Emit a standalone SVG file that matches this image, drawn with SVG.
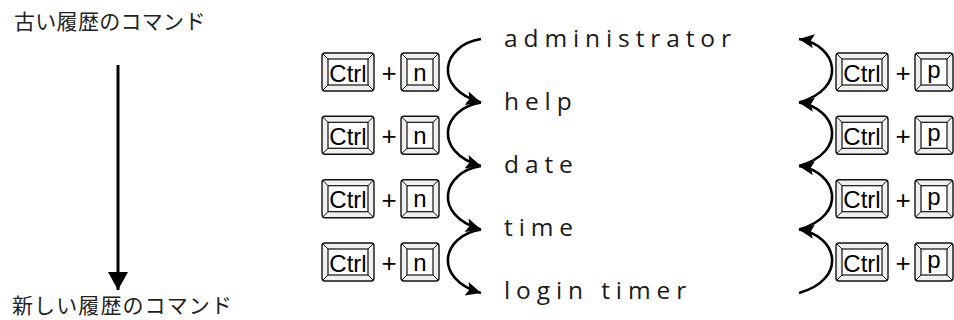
<svg xmlns="http://www.w3.org/2000/svg" xmlns:xlink="http://www.w3.org/1999/xlink" width="954" height="320" viewBox="0 0 954 320">
<style>
.jp{font-family:"Noto Sans CJK JP","Noto Sans",sans-serif;font-size:21px;fill:#222}
.cmd{font-family:"Open Sans","Noto Sans",sans-serif;font-weight:400;font-size:24.5px;letter-spacing:5.9px;fill:#1a1a1a}
.key{font-family:"Liberation Sans",Arial,sans-serif;fill:#000;text-anchor:middle}
.kb{fill:#f0f0f0;stroke:#111;stroke-width:1.4}
.ki{fill:#fff;stroke:#111;stroke-width:1.2}
.kl{stroke:#111;stroke-width:1}
.curve{fill:none;stroke:#000;stroke-width:2.6}
</style>
<defs>
<marker id="ah" markerUnits="userSpaceOnUse" markerWidth="18" markerHeight="16" refX="15" refY="7" orient="auto" viewBox="0 0 18 16">
<path d="M0,0 L15,7 L0,14 L3,7 z" fill="#000"/>
</marker>
<marker id="down" markerUnits="userSpaceOnUse" markerWidth="20" markerHeight="20" refX="18" refY="10" orient="auto" viewBox="0 0 20 20">
<path d="M0,0 L18,10 L0,20 z" fill="#000"/>
</marker>
<g id="ctrl">
<rect class="kb" x="0" y="0" width="52" height="38" rx="3"/>
<rect class="ki" x="6" y="6" width="40" height="26"/>
<path class="kl" d="M1,1 L6,6 M51,1 L46,6 M1,37 L6,32 M51,37 L46,32"/>
<text class="key" x="26" y="28.5" font-size="24">Ctrl</text>
</g>
<g id="kn">
<rect class="kb" x="0" y="0" width="38" height="38" rx="3"/>
<rect class="ki" x="6" y="6" width="26" height="26"/>
<path class="kl" d="M1,1 L6,6 M37,1 L32,6 M1,37 L6,32 M37,37 L32,32"/>
<text class="key" x="19" y="27.5" font-size="24">n</text>
</g>
<g id="kp">
<rect class="kb" x="0" y="0" width="38" height="38" rx="3"/>
<rect class="ki" x="6" y="6" width="26" height="26"/>
<path class="kl" d="M1,1 L6,6 M37,1 L32,6 M1,37 L6,32 M37,37 L32,32"/>
<text class="key" x="19" y="25" font-size="24">p</text>
</g>
<g id="plus"><text class="key" x="0" y="0" font-size="26">+</text></g>
</defs>

<g id="label-old"><text class="jp" x="14" y="29" letter-spacing="0.3">古い履歴のコマンド</text></g>
<g id="label-new"><text class="jp" x="12" y="313" letter-spacing="1.1">新しい履歴のコマンド</text></g>

<g id="cmd-administrator"><text class="cmd" x="504" y="47">administrator</text></g>
<g id="cmd-help"><text class="cmd" x="504" y="110">help</text></g>
<g id="cmd-date"><text class="cmd" x="504" y="173">date</text></g>
<g id="cmd-time"><text class="cmd" x="504" y="236">time</text></g>
<g id="cmd-login-timer"><text class="cmd" x="504" y="299">login timer</text></g>

<g id="keys-next-1"><use xlink:href="#ctrl" x="322" y="53"/><use xlink:href="#plus" x="389" y="82"/><use xlink:href="#kn" x="401" y="53"/></g>
<g id="keys-next-2"><use xlink:href="#ctrl" x="322" y="116.3"/><use xlink:href="#plus" x="389" y="145.3"/><use xlink:href="#kn" x="401" y="116.3"/></g>
<g id="keys-next-3"><use xlink:href="#ctrl" x="322" y="179.7"/><use xlink:href="#plus" x="389" y="208.7"/><use xlink:href="#kn" x="401" y="179.7"/></g>
<g id="keys-next-4"><use xlink:href="#ctrl" x="322" y="243"/><use xlink:href="#plus" x="389" y="272"/><use xlink:href="#kn" x="401" y="243"/></g>

<g id="keys-prev-1"><use xlink:href="#ctrl" x="836" y="53"/><use xlink:href="#plus" x="903" y="82"/><use xlink:href="#kp" x="915" y="53"/></g>
<g id="keys-prev-2"><use xlink:href="#ctrl" x="836" y="116.3"/><use xlink:href="#plus" x="903" y="145.3"/><use xlink:href="#kp" x="915" y="116.3"/></g>
<g id="keys-prev-3"><use xlink:href="#ctrl" x="836" y="179.7"/><use xlink:href="#plus" x="903" y="208.7"/><use xlink:href="#kp" x="915" y="179.7"/></g>
<g id="keys-prev-4"><use xlink:href="#ctrl" x="836" y="243"/><use xlink:href="#plus" x="903" y="272"/><use xlink:href="#kp" x="915" y="243"/></g>

<g id="connectors">
<line x1="118" y1="65" x2="118" y2="290" stroke="#000" stroke-width="3" marker-end="url(#down)"/>
<path class="curve" marker-end="url(#ah)" d="M481,39 C442,45 432,88 481,102.5"/>
<path class="curve" marker-end="url(#ah)" d="M481,102.5 C442,108.5 432,151.5 481,166"/>
<path class="curve" marker-end="url(#ah)" d="M481,166 C442,172 432,215 481,229.5"/>
<path class="curve" marker-end="url(#ah)" d="M481,229.5 C442,235.5 432,278.5 481,293"/>
<path class="curve" marker-end="url(#ah)" d="M799,102.5 C848,88.5 838,45 799,39"/>
<path class="curve" marker-end="url(#ah)" d="M799,166 C848,152 838,108.5 799,102.5"/>
<path class="curve" marker-end="url(#ah)" d="M799,229.5 C848,215.5 838,172 799,166"/>
<path class="curve" marker-end="url(#ah)" d="M799,293 C848,279 838,235.5 799,229.5"/>
</g>
</svg>
